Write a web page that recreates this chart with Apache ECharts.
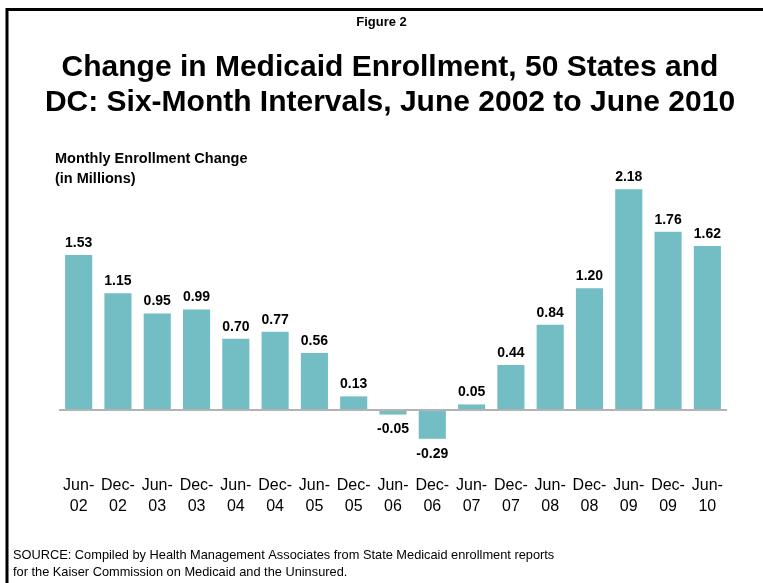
<!DOCTYPE html>
<html>
<head>
<meta charset="utf-8">
<script src="https://cdn.jsdelivr.net/npm/echarts@6/dist/echarts.min.js"></script>
<style>
html,body{margin:0;padding:0;background:#fff;}
#chart{width:763px;height:583px;}
</style>
</head>
<body>
<div id="chart"></div>
<script>
var categories = ['Jun-\n02','Dec-\n02','Jun-\n03','Dec-\n03','Jun-\n04','Dec-\n04','Jun-\n05','Dec-\n05','Jun-\n06','Dec-\n06','Jun-\n07','Dec-\n07','Jun-\n08','Dec-\n08','Jun-\n09','Dec-\n09','Jun-\n10'];
var enrollmentChange = [1.53,1.15,0.95,0.99,0.70,0.77,0.56,0.13,-0.05,-0.29,0.05,0.44,0.84,1.20,2.18,1.76,1.62];

var chart = echarts.init(document.getElementById('chart'), null, {renderer:'canvas'});
var FONT = '"Liberation Sans", Arial, sans-serif';

var barData = enrollmentChange.map(function(v){
  return {value: v, label: v < 0 ? {position: 'bottom', distance: 8} : {position: 'top', distance: 5}};
});

chart.setOption({
  animation: false,
  backgroundColor: '#ffffff',
  textStyle: {fontFamily: FONT},
  graphic: [
    {type:'line', shape:{x1:7, y1:9.5, x2:763, y2:9.5}, style:{stroke:'#000', lineWidth:3}},
    {type:'line', shape:{x1:7, y1:8, x2:7, y2:583}, style:{stroke:'#000', lineWidth:3}},
    {type:'text', left:'center', top:16, style:{text:'Figure 2', font:'bold 13px ' + FONT, fill:'#000'}},
    {type:'text', x:390, y:50, style:{text:'Change in Medicaid Enrollment, 50 States and\nDC: Six-Month Intervals, June 2002 to June 2010', font:'bold 30px ' + FONT, fill:'#000', align:'center', lineHeight:35}},
    {type:'text', x:55, y:149, style:{text:'Monthly Enrollment Change\n(in Millions)', font:'bold 14.5px ' + FONT, fill:'#000', lineHeight:20}},
    {type:'text', x:13, y:547, style:{text:'SOURCE: Compiled by Health Management Associates from State Medicaid enrollment reports\nfor the Kaiser Commission on Medicaid and the Uninsured.', font:'12.8px ' + FONT, fill:'#000', lineHeight:17}}
  ],
  grid: {left: 59, right: 36, top: 157, bottom: 123, containLabel: false},
  xAxis: {
    type: 'category',
    data: categories,
    axisLine: {onZero: false, show: false},
    axisTick: {show: false},
    axisLabel: {fontSize: 16, color: '#000', lineHeight: 21, margin: 15, interval: 0, fontFamily: FONT}
  },
  yAxis: {
    type: 'value',
    min: -0.5, max: 2.5,
    show: false,
    splitLine: {show: false}
  },
  series: [{
    type: 'bar',
    data: barData,
    barCategoryGap: '31%',
    itemStyle: {color: '#73BEC4'},
    label: {show: true, fontWeight: 'bold', fontSize: 14, color: '#000',
      formatter: function(p){ return p.value.toFixed(2); }},
    markLine: {
      silent: true, symbol: 'none',
      label: {show: false},
      lineStyle: {color: '#b3b3b3', width: 2, type: 'solid'},
      data: [{yAxis: 0}]
    }
  }]
});
</script>
</body>
</html>
